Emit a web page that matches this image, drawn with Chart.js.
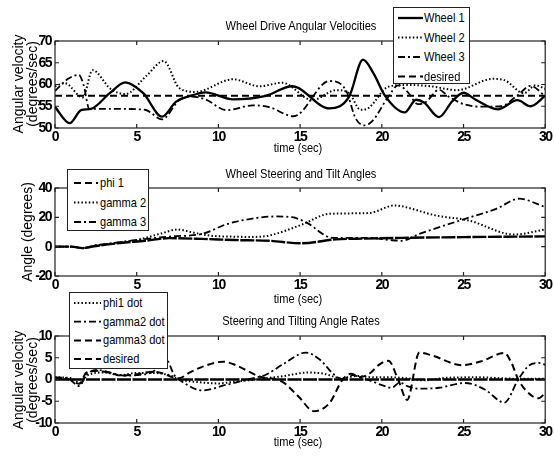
<!DOCTYPE html>
<html><head><meta charset="utf-8">
<script src="https://cdn.jsdelivr.net/npm/chart.js@4.4.0/dist/chart.umd.min.js"></script>
<style>
body{margin:0;background:#fff;width:554px;height:460px;position:relative;overflow:hidden;font-family:"Liberation Sans",Arial,sans-serif;}
canvas{position:absolute;left:0;}
.t{position:absolute;font-size:13.5px;white-space:nowrap;transform:translate(-50%,-50%) scaleX(0.82);color:#000;}
.yl{position:absolute;font-size:14px;line-height:14px;white-space:nowrap;text-align:center;transform:translate(-50%,-50%) rotate(-90deg);color:#000;}
.leg{position:absolute;border:1px solid #222;background:#fff;box-sizing:border-box;font-size:13.5px;}
.leg span{position:absolute;white-space:nowrap;line-height:16px;transform:translateY(-50%) scaleX(0.82);transform-origin:left center;}
.leg svg{position:absolute;left:0;top:0;}
</style>
</head><body>
<canvas id="c1" width="554" height="150" style="top:0"></canvas>
<canvas id="c2" width="554" height="150" style="top:150px"></canvas>
<canvas id="c3" width="554" height="160" style="top:300px"></canvas>
<div class="t" style="left:301px;top:25px">Wheel Drive Angular Velocities</div>
<div class="t" style="left:298px;top:147px">time (sec)</div>
<div class="t" style="left:301px;top:173px">Wheel Steering and Tilt Angles</div>
<div class="t" style="left:298px;top:298px">time (sec)</div>
<div class="t" style="left:301px;top:320px">Steering and Tilting Angle Rates</div>
<div class="t" style="left:298px;top:441px">time (sec)</div>
<div class="yl" style="left:25px;top:84px">Angular velocity<br>(degrees/sec)</div>
<div class="yl" style="left:27px;top:232px">Angle (degrees)</div>
<div class="yl" style="left:25px;top:380px">Angular velocity<br>(degrees/sec)</div>
<script>
const FONT='"Liberation Sans",Arial,sans-serif';
const tickX=[0,5,10,15,20,25,30];
const velTicks=[50,55,60,65,70];
const angTicks=[-20,0,20,40];
const rateTicks=[-10,-5,0,5,10];

// Wheel drive angular velocities
const w1T=[0,0.9,1.6,2.2,3.35,4.3,5.4,6.55,7.4,8.4,9.2,10.9,12.9,14.5,16.8,18.0,18.85,19.5,20.2,21.4,22.1,22.6,23.5,24.3,25.0,25.7,27.1,28.3,29.1,30];
const w1V=[54.8,51.1,54.1,54.4,58.0,60.5,58.0,52.6,56.0,57.5,58.2,56.6,57.4,59.6,54.5,57.2,65.7,62.5,57.4,53.6,56.5,55.8,52.5,56.1,58.1,56.6,54.3,56.4,55.0,57.4];
const w2T=[0,0.6,1.7,2.3,3.4,4.3,5.6,6.65,7.6,8.6,10.9,12.5,13.9,15.75,17.2,18.0,18.7,19.1,20.4,21.5,23.0,24.6,26.8,27.5,28.7,29.4,30];
const w2V=[59.6,60.3,57.0,63.3,59.0,57.8,62.0,65.4,59.2,58.3,61.2,59.6,60.4,56.4,58.7,58.0,54.2,54.4,59.5,59.9,59.6,58.7,61.3,61.0,58.0,59.8,59.0];
const w3T=[0,0.8,1.45,1.75,2.1,3.4,5.5,6.55,7.6,8.4,9.2,10.5,12.1,13.1,14.6,16.8,17.8,18.4,18.95,19.4,20.4,21.0,21.6,22.2,22.7,23.5,24.1,25.0,26.0,27.3,28.3,29.1,30];
const w3V=[58.5,61.3,62.2,59.9,54.4,54.4,54.2,52.0,56.4,57.2,56.6,54.1,55.2,54.8,52.7,60.8,58.7,52.2,50.6,51.5,57.2,59.8,58.2,55.5,56.0,58.8,57.2,55.5,54.9,55.0,57.5,59.7,57.3];
const desT=[0,30];
const desV=[57.4,57.4];

// Wheel steering and tilt angles
const phiT=[0,1.0,1.7,2.4,4.0,5.5,7.0,9.0,11.0,13.1,15.1,17.2,19.0,21.2,25.0,30];
const phiV=[0,0,-1.0,0.3,2.5,4.0,5.8,5.3,4.5,4.0,2.3,5.0,5.5,6.0,6.5,7.0];
const g2T=[0,1.0,1.7,2.4,4.0,5.0,6.5,7.5,8.5,9.5,11.0,12.0,13.1,15.1,16.8,19.2,20.8,21.2,23.3,25.3,28.1,30];
const g2V=[0,0,-1.0,0.5,3.0,4.5,9.0,11.7,9.5,7.5,6.8,6.6,7.6,15.0,22.4,22.9,28.1,27.6,21.3,17.9,8.3,11.7];
const g3T=[0,1.0,1.7,2.4,4.0,5.0,7.0,9.0,10.5,12.0,13.5,14.5,15.35,17.0,19.2,20.5,21.2,22.3,25.1,27.0,28.4,30];
const g3V=[0,0,-1.0,0.8,3.0,4.6,6.9,8.7,15.3,19.0,20.6,20.1,16.7,6.0,6.0,4.5,4.0,8.7,19.0,25.8,32.7,27.0];

// Steering and tilting angle rates
const pdT=[0,1.0,1.5,2.0,3.0,4.0,5.0,6.0,7.0,7.6,8.5,10.0,11.0,12.5,14.0,15.5,16.5,17.5,18.5,19.5,20.5,21.5,22.5,24.0,26.0,28.0,30];
const pdV=[0.5,0.3,-0.8,1.0,1.6,1.0,1.5,1.5,1.0,0,-0.5,-0.9,-0.5,0.1,0.8,1.6,1.3,0.3,0.8,0.5,0.5,0.3,-0.2,0.4,0.5,0.2,0.2];
const g2dT=[0,0.8,1.5,1.9,2.6,3.5,4.2,5.0,6.0,6.8,7.3,7.7,9.0,10.5,12.0,12.9,14.0,15.35,16.2,17.0,17.6,18.2,18.8,19.4,20.0,20.6,21.1,21.6,22.3,23.5,25.1,26.3,27.5,28.35,29.0,29.6,30];
const g2dV=[0.5,0.2,-1.5,1.0,2.2,1.5,0.9,1.0,1.8,4.6,1.0,-0.3,-2.5,-1.2,0.2,1.1,3.6,6.2,4.6,1.4,0,1.0,0.3,-0.4,-1.3,-1.9,-0.7,-1.6,-2.1,-1.9,-0.8,-2.3,-5.3,0,3.2,3.8,3.4];
const g3dT=[0,0.8,1.5,1.9,2.6,3.3,4.0,5.0,6.0,6.6,7.2,7.6,8.2,9.0,10.3,11.0,12.5,13.9,14.9,15.85,16.8,17.6,18.1,18.7,19.3,19.8,20.4,21.0,21.55,22.3,23.1,24.9,26.1,27.5,27.95,28.35,29.2,29.6,30];
const g3dV=[0.2,0.1,-1.0,1.5,2.0,1.6,0.9,1.2,1.8,1.4,0.5,0.3,1.5,2.9,4.1,3.4,0.7,-0.5,-3.9,-7.3,-5.4,0,1.3,0.6,1.5,3.3,4.3,0,-4.7,6.2,5.5,3.3,4.2,6.1,3.7,0,-3.8,-4.3,-3.1];
const rdesT=[0,30];
const rdesV=[0,0];

const SOLID=[], DOT=[1.5,2.2], DASHDOT=[7,3,2,3], DASH=[7,4], LONG=[14,1.5];

function ds(t,v,w,dash){
  return {data:t.map((x,i)=>({x,y:v[i]})),borderColor:'#000',borderWidth:w,borderDash:dash,
    pointRadius:0,fill:false,cubicInterpolationMode:'monotone'};
}

// narrow tick digits like the original
const narrowPlugin={id:'narrow',beforeDraw(chart){chart.ctx.letterSpacing='-1.5px';}};

// box round the axes with inward ticks on all four sides
const boxPlugin={id:'box',afterDraw(chart){
  const {ctx,chartArea:a,scales:{x,y}}=chart;
  ctx.save();ctx.strokeStyle='#222';ctx.lineWidth=1.2;
  ctx.strokeRect(a.left,a.top,a.right-a.left,a.bottom-a.top);
  ctx.beginPath();
  x.ticks.forEach(t=>{const p=x.getPixelForValue(t.value);
    ctx.moveTo(p,a.top);ctx.lineTo(p,a.top+4);ctx.moveTo(p,a.bottom);ctx.lineTo(p,a.bottom-4);});
  y.ticks.forEach(t=>{const p=y.getPixelForValue(t.value);
    ctx.moveTo(a.left,p);ctx.lineTo(a.left+4,p);ctx.moveTo(a.right,p);ctx.lineTo(a.right-4,p);});
  ctx.stroke();ctx.restore();
}};

function makeChart(id,sets,yTicks,padTop,xH){
  return new Chart(document.getElementById(id),{
    type:'line',
    data:{datasets:sets},
    options:{
      responsive:false,animation:false,
      layout:{padding:{top:padTop,left:10,right:7,bottom:0}},
      plugins:{legend:{display:false},tooltip:{enabled:false}},
      scales:{
        x:{type:'linear',min:0,max:30,
          afterBuildTicks:s=>{s.ticks=tickX.map(v=>({value:v}));},
          afterFit:s=>{s.height=xH;},
          grid:{display:false,drawTicks:false},border:{display:false},
          ticks:{color:'#000',font:{size:14,family:FONT,weight:'bold'},padding:1,maxRotation:0}},
        y:{type:'linear',min:yTicks[0],max:yTicks[yTicks.length-1],
          afterBuildTicks:s=>{s.ticks=yTicks.map(v=>({value:v}));},
          afterFit:s=>{s.width=45;},
          grid:{display:false,drawTicks:false},border:{display:false},
          ticks:{color:'#000',font:{size:14,family:FONT,weight:'bold'},padding:4}}
      }
    },
    plugins:[narrowPlugin,boxPlugin]
  });
}

makeChart('c1',[ds(w1T,w1V,2.3,SOLID),ds(w2T,w2V,2,DOT),ds(w3T,w3V,1.8,DASHDOT),ds(desT,desV,2,DASH)],velTicks,41,22);
makeChart('c2',[ds(phiT,phiV,2.4,LONG),ds(g2T,g2V,2,DOT),ds(g3T,g3V,1.8,DASHDOT)],angTicks,38,24);
makeChart('c3',[ds(pdT,pdV,2,DOT),ds(g2dT,g2dV,1.8,DASHDOT),ds(g3dT,g3dV,2,DASH),ds(rdesT,rdesV,2.4,LONG)],rateTicks,36,37);

function legend(left,top,w,h,first,rowH,s0,s1,tx,items){
  const el=document.createElement('div');el.className='leg';
  Object.assign(el.style,{left:left+'px',top:top+'px',width:w+'px',height:h+'px'});
  let svg='<svg width="'+w+'" height="'+h+'">';
  items.forEach((it,i)=>{
    const y=first+i*rowH;
    svg+='<line x1="'+s0+'" y1="'+y+'" x2="'+s1+'" y2="'+y+'" stroke="#000" stroke-width="'+it[2]+'" stroke-dasharray="'+it[1].join(' ')+'"/>';
  });
  el.innerHTML=svg+'</svg>'+items.map((it,i)=>'<span style="left:'+tx+'px;top:'+(first+i*rowH)+'px">'+it[0]+'</span>').join('');
  document.body.appendChild(el);
}
legend(393,7,77,77,10,19.5,4,29,30,[['Wheel 1',SOLID,2.3],['Wheel 2',DOT,2],['Wheel 3',DASHDOT,1.8],['desired',DASH,2]]);
legend(67,169,82,62,13,19.5,6,30,32,[['phi 1',DASH,2],['gamma 2',DOT,2],['gamma 3',DASHDOT,1.8]]);
legend(69,292,99,77,10,18.7,4,31,33,[['phi1 dot',DOT,2],['gamma2 dot',DASHDOT,1.8],['gamma3 dot',DASH,2],['desired',DASH,2]]);
</script>
</body></html>
